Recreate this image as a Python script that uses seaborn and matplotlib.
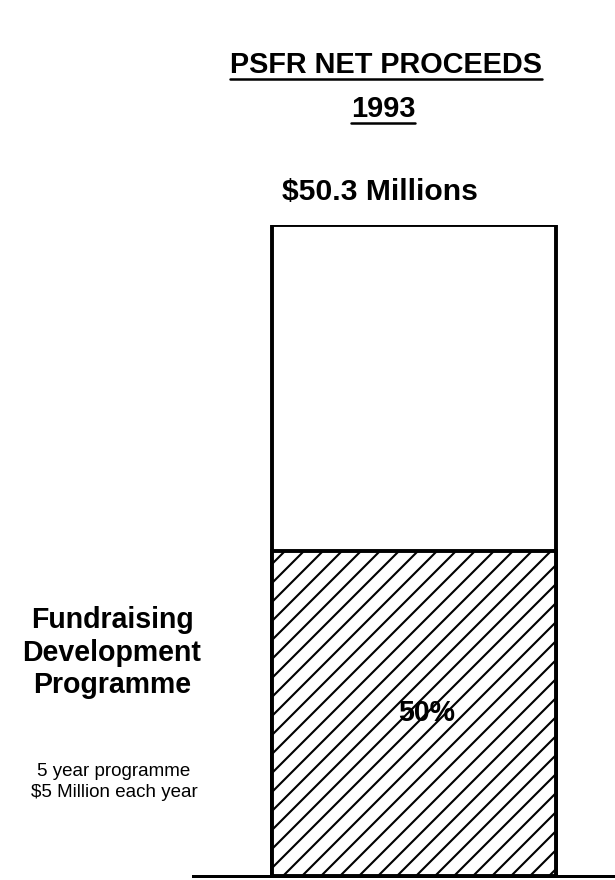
import matplotlib
matplotlib.use("Agg")
import matplotlib.pyplot as plt
import seaborn as sns
import pandas as pd
from matplotlib.lines import Line2D

# Data
year = "1993"
total_millions = 50.3
segments = ["Fundraising Development Programme", "Other proceeds"]
shares = [50, 50]          # percent of net proceeds
hatches = ["//", ""]

title_lines = ["PSFR NET PROCEEDS", year]
side_heading = ["Fundraising", "Development", "Programme"]
side_notes = ["5 year programme", "$5 Million each year"]

# Canvas size in pixels; the dpi also sets the hatch spacing
W, H = 615, 880
DPI = 114


def pt(px_size):
    """Convert a size given in pixels to points at the chosen dpi."""
    return px_size * 72 / DPI


sns.set_theme(style="white")
plt.rcParams["font.family"] = ["Liberation Sans", "DejaVu Sans"]
plt.rcParams["hatch.linewidth"] = pt(2.1)
plt.rcParams["hatch.color"] = "black"

fig = plt.figure(figsize=(W / DPI, H / DPI), dpi=DPI)
fig.patch.set_facecolor("white")


def fx(px):
    return px / W


def fy(py):
    return 1 - py / H


# Axes: bottom spine acts as the baseline
ax = fig.add_axes([fx(193), fy(876), fx(615) - fx(193), fy(225) - fy(876)])

df = pd.DataFrame({"year": [year] * len(segments), "segment": segments, "share": shares})
df["cum"] = df["share"].cumsum()

# Draw stacked segments from the top down so lower ones sit in front
for i in reversed(range(len(df))):
    row = df.iloc[[i]]
    sns.barplot(data=row, x="year", y="cum", color="white", edgecolor="black",
                linewidth=pt(3.9), width=0.8, ax=ax, saturation=1)
    ax.patches[-1].set_hatch(hatches[i])

ax.set_ylim(0, df["cum"].iloc[-1])
ax.set_xlim(-0.6225, 0.566)
ax.set_xlabel("")
ax.set_ylabel("")
ax.set_xticks([])
ax.set_yticks([])
for side in ["top", "left", "right"]:
    ax.spines[side].set_visible(False)
ax.spines["bottom"].set_linewidth(pt(3.0))
ax.spines["bottom"].set_color("black")
ax.patch.set_alpha(0)

# Share label inside the hatched segment
lower = df.iloc[0]
ax.text(0.035, lower["share"] / 2, f"{lower['share']}%", ha="center", va="center",
        fontsize=pt(28.5), fontweight="bold", color="black")

# Titles with underlines
t1 = fig.text(fx(386), fy(73), title_lines[0], ha="center", va="baseline",
              fontsize=pt(28.9), fontweight="bold", color="black")
t2 = fig.text(fx(383), fy(117), title_lines[1], ha="center", va="baseline",
              fontsize=pt(28.9), fontweight="bold", color="black")
fig.text(fx(380), fy(200), f"${total_millions} Millions", ha="center", va="baseline",
         fontsize=pt(30.1), fontweight="bold", color="black")

fig.canvas.draw()
renderer = fig.canvas.get_renderer()
for t, uy in [(t1, 79), (t2, 123)]:
    bb = t.get_window_extent(renderer)
    fig.add_artist(Line2D([bb.x0 / W, bb.x1 / W], [fy(uy), fy(uy)],
                          color="black", linewidth=pt(2.5), transform=fig.transFigure))

# Side annotation
for txt, base in zip(side_heading, [628, 661, 693]):
    fig.text(fx(112), fy(base), txt, ha="center", va="baseline",
             fontsize=pt(28.5), fontweight="bold", color="black")
for txt, base in zip(side_notes, [776, 797]):
    fig.text(fx(114), fy(base), txt, ha="center", va="baseline",
             fontsize=pt(18.75), color="black")

fig.savefig("out.png", dpi=DPI, facecolor="white")
